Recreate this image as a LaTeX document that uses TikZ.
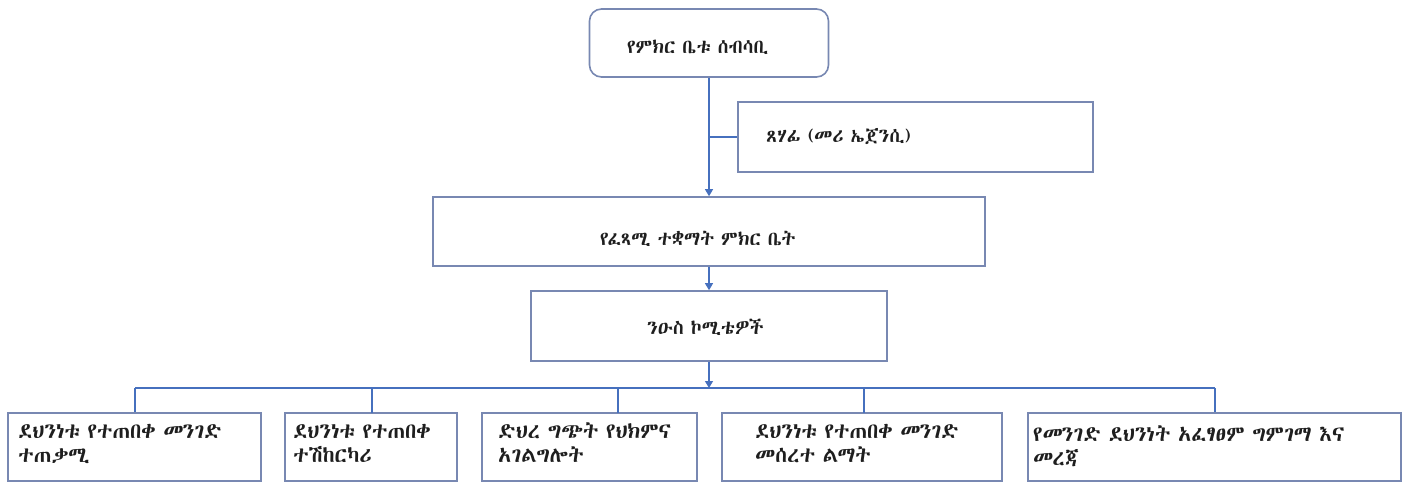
\documentclass[tikz,border=0pt]{standalone}
\usepackage{fontspec}
\newfontfamily\eth[WordSpace=0.8]{Abyssinica SIL}
\usetikzlibrary{arrows.meta}
\definecolor{bordercol}{RGB}{120,136,178}
\definecolor{linecol}{RGB}{70,112,190}
\definecolor{txtcol}{RGB}{30,30,30}
\tikzset{
  box/.style={draw=bordercol, line width=1.6pt, rectangle, inner sep=0pt, fill=white},
  conn/.style={draw=linecol, line width=1.2pt},
  arr/.style={conn, -{Triangle[width=8pt,length=7pt]}},
  lbl/.style={anchor=base west, inner sep=0pt, text=txtcol, font=\eth\fontsize{19.5}{22}\selectfont},
  lblb/.style={lbl, font=\eth\fontsize{21.5}{24}\selectfont},
}
\begin{document}
\begin{tikzpicture}[x=1pt,y=-1pt]
\useasboundingbox (0,0) rectangle (1405,482);
\fill[white] (0,0) rectangle (1405,482);
\clip (0,0) rectangle (1405,482);
% boxes
\node[box, rounded corners=12pt, minimum width=239pt, minimum height=68pt] (top) at (709,43) {};
\node[box, minimum width=355pt, minimum height=70pt] (sec) at (915.5,137) {};
\node[box, minimum width=552pt, minimum height=69pt] (mid) at (709,231.5) {};
\node[box, minimum width=356pt, minimum height=70pt] (sub) at (709,326) {};
\node[box, minimum width=253pt, minimum height=68pt] (b1) at (134.5,447) {};
\node[box, minimum width=172pt, minimum height=68pt] (b2) at (371,447) {};
\node[box, minimum width=215pt, minimum height=68pt] (b3) at (589.5,447) {};
\node[box, minimum width=280pt, minimum height=68pt] (b4) at (862,447) {};
\node[box, minimum width=373pt, minimum height=68pt] (b5) at (1214.5,447) {};
% connectors
\draw[arr] (top.south) -- (mid.north);
\draw[conn] (top.south |- sec.west) -- (sec.west);
\draw[arr] (mid.south) -- (sub.north);
\coordinate (busL) at (135,388);
\coordinate (busR) at (1215,388);
\coordinate (busM) at (709,388);
\draw[arr] (sub.south) -- (busM);
\draw[conn] (busL) -- (busR);
\draw[conn] (busL) -- (busL |- b1.north);
\draw[conn] (372,388) -- (372,413);
\draw[conn] (618,388) -- (618,413);
\draw[conn] (864,388) -- (864,413);
\draw[conn] (busR) -- (busR |- b5.north);
% texts
\node[lbl] (ttop) at (627,53) {የምክር ቤቱ ሰብሳቢ};
\node[lbl] (tsec) at (766,142) {ጸሃፊ (መሪ ኤጀንሲ)};
\node[lbl] (tmid) at (600,245) {የፈጻሚ ተቋማት ምክር ቤት};
\node[lbl] (tsub) at (647,334) {ንዑስ ኮሚቴዎች};
\node[lblb] (t1a) at (18,438) {ደህንነቱ የተጠበቀ መንገድ};
\node[lblb] (t1b) at (18,462) {ተጠቃሚ};
\node[lblb] (t2a) at (293,438) {ደህንነቱ የተጠበቀ};
\node[lblb] (t2b) at (293,462) {ተሽከርካሪ};
\node[lblb] (t3a) at (498,438) {ድህረ ግጭት የህክምና};
\node[lblb] (t3b) at (498,462) {አገልግሎት};
\node[lblb] (t4a) at (755,438) {ደህንነቱ የተጠበቀ መንገድ};
\node[lblb] (t4b) at (755,462) {መሰረተ ልማት};
\node[lblb] (t5a) at (1033,441) {የመንገድ ደህንነት አፈፃፀም ግምገማ እና};
\node[lblb] (t5b) at (1033,465) {መረጃ};
\end{tikzpicture}
\end{document}
